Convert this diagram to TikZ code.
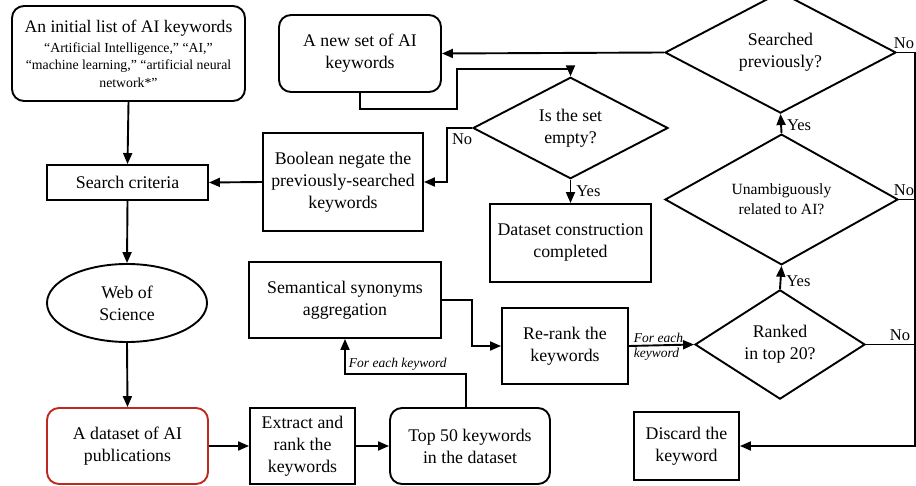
\documentclass[tikz,border=0pt]{standalone}
\usepackage{fontspec}
\setmainfont{Liberation Serif}
\usetikzlibrary{shapes.geometric,arrows.meta}
\definecolor{redc}{RGB}{190,40,30}
\begin{document}
\begin{tikzpicture}[x=1pt,y=-1pt,
  every node/.style={font=\fontsize{17.8}{22}\selectfont, align=center, inner sep=0pt},
  sq/.style={draw, line width=1.9pt},
  rnd/.style={sq, rounded corners=12pt},
  dia/.style={draw, diamond, line width=1.9pt},
  conn/.style={line width=1.9pt, -{Triangle[length=11pt,width=9pt]}},
  plain/.style={line width=1.9pt},
  lab/.style={font=\fontsize{16.5}{18}\selectfont},
  itl/.style={font=\fontsize{13.5}{15}\selectfont\itshape}
]
\useasboundingbox (0,0) rectangle (916,486);

% nodes
\node[rnd, minimum width=233, minimum height=95, font=\fontsize{13.8}{17.5}\selectfont] (init) at (128.5,53.5)
  {{\fontsize{17.6}{20}\selectfont An initial list of AI keywords}\\[2.5pt]
   “Artificial Intelligence,” “AI,”\\ “machine learning,” “artificial neural\\ network*”};
\node[sq, minimum width=161, minimum height=35] (search) at (127.5,182.5) {Search criteria};
\node[draw, ellipse, line width=1.9pt, minimum width=160, minimum height=78] (wos) at (127,303) {Web of\\Science};
\node[rnd, draw=redc, minimum width=161, minimum height=76] (dataset) at (127.5,446) {A dataset of AI\\publications};
\node[sq, minimum width=105, minimum height=76] (extract) at (302.5,446) {Extract and\\rank the\\keywords};
\node[rnd, minimum width=160, minimum height=76] (top) at (470,446) {Top 50 keywords\\in the dataset};
\node[sq, minimum width=192, minimum height=76] (sem) at (345,300) {Semantical synonyms\\aggregation};
\node[sq, minimum width=126, minimum height=76] (rerank) at (565,346) {Re-rank the\\keywords};
\node[dia, minimum width=170, minimum height=89] (ranked) at (780,344.5) {Ranked\\in top 20?};
\node[sq, minimum width=105, minimum height=68] (discard) at (686.5,446) {Discard the\\keyword};
\node[dia, minimum width=233, minimum height=97, font=\fontsize{15.6}{20}\selectfont] (unamb) at (781.5,199.5) {Unambiguously\\related to AI?};
\node[dia, minimum width=231, minimum height=91] (searched) at (780.5,52.5) {\raisebox{-2pt}{Searched}\\\raisebox{-2pt}{previously?}};
\node[rnd, minimum width=162, minimum height=77] (newset) at (360,53.5) {A new set of AI\\keywords};
\node[dia, minimum width=195, minimum height=82] (empty) at (570.5,128) {Is the set\\empty?};
\node[sq, minimum width=161, minimum height=78] (done) at (570.5,243) {Dataset construction\\completed};
\node[sq, minimum width=160, minimum height=98] (bool) at (343,182) {Boolean negate the\\previously-searched\\keywords};

\coordinate (rx) at (915,0);
\coordinate (c1) at (466,374);

% connectors
\draw[conn] (init.south) -- (search.north);
\draw[conn] (search.south) -- (wos.north);
\draw[conn] (wos.south) -- (dataset.north);
\draw[conn] (dataset.east) -- (extract.west);
\draw[conn] (extract.east) -- (top.west);
\draw[conn] ([xshift=-4pt]top.north) -- (c1) -- (sem.south |- c1)
  node[itl, anchor=south west, xshift=3pt, yshift=3pt] {For each keyword} -- (sem.south);
\draw[conn] (sem.east) -- ++(30,0) |- (rerank.west);
\draw[conn] (rerank.east) -- (ranked.west)
  node[pos=0, itl, anchor=south west, xshift=4pt, yshift=2pt] {For each}
  node[pos=0, itl, anchor=north west, xshift=4pt, yshift=-1pt] {keyword};
\draw[conn] (ranked.north) -- (unamb.south) node[pos=0.35, lab, anchor=west, xshift=5pt] {Yes};
\draw[conn] (unamb.north) -- (searched.south) node[pos=0.43, lab, anchor=west, xshift=5pt] {Yes};
\draw[conn] (searched.east) -- (searched.east -| rx)
  node[lab, anchor=south east, yshift=3pt] {No} -- (rx |- discard.east) -- (discard.east);
\draw[plain] (unamb.east) -- (unamb.east -| rx) node[lab, anchor=south east, yshift=3pt] {No};
\draw[plain] (ranked.east) -- (ranked.east -| rx) node[lab, anchor=south east, xshift=-4pt, yshift=3pt] {No};
\draw[conn] (searched.west) -- (newset.east);
\draw[conn] (newset.south) -- ++(0,16) -| (457,69) -| (empty.north);
\draw[conn] (empty.west) -- ++(-25,0) node[lab, anchor=north west, xshift=4pt, yshift=-5pt] {No} |- (bool.east);
\draw[conn] (empty.south) -- (done.north) node[midway, lab, anchor=west, xshift=5pt] {Yes};
\draw[conn] (bool.west) -- (search.east);
\end{tikzpicture}
\end{document}
